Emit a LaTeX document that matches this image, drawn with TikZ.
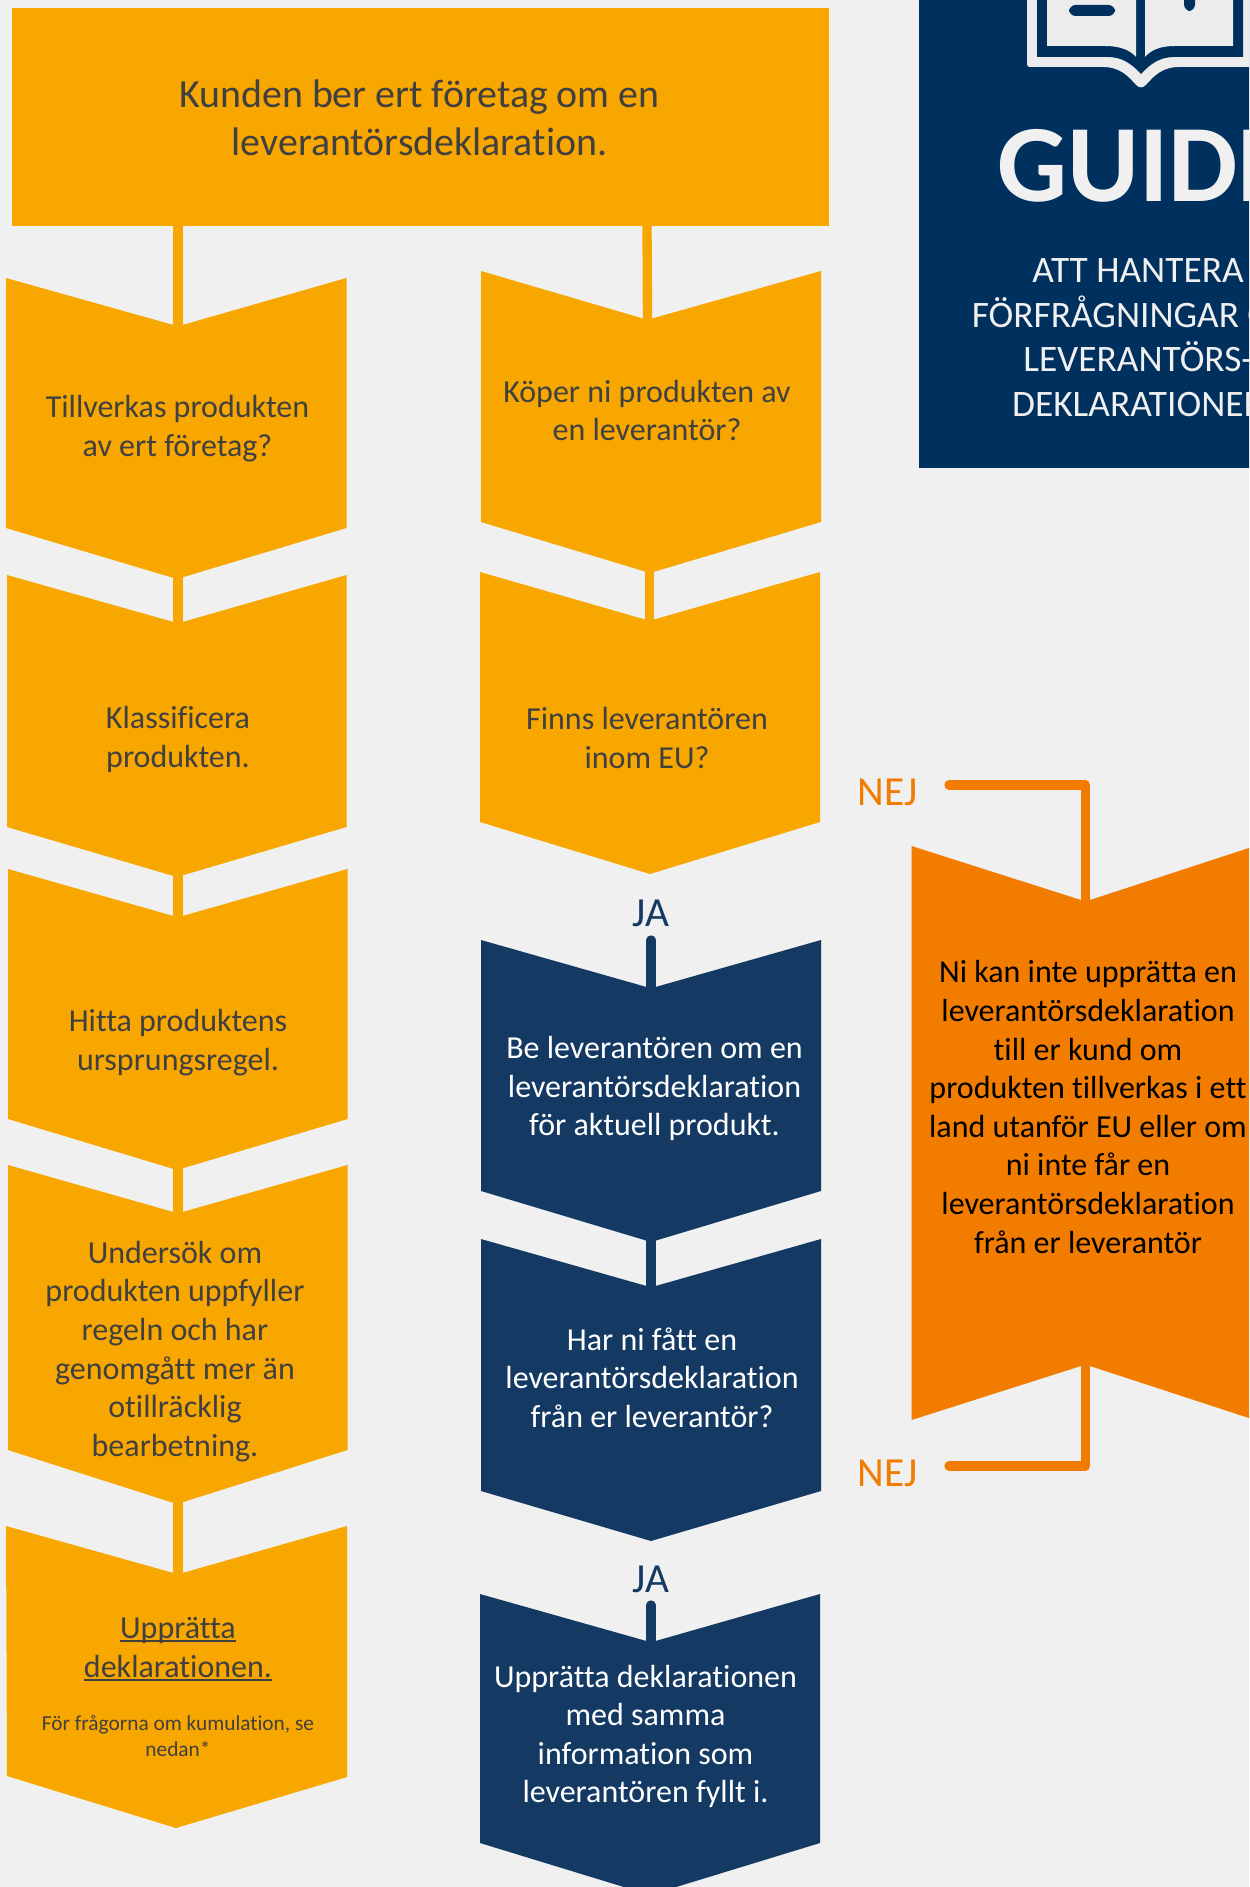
\documentclass[tikz,border=0pt]{standalone}
\usepackage{fontspec}
\setmainfont[Ligatures=NoCommon]{Carlito}
\definecolor{pagebg}{HTML}{F0F0F0}
\definecolor{amberc}{HTML}{F8A700}
\definecolor{navyc}{HTML}{143A64}
\definecolor{panelc}{HTML}{00305E}
\definecolor{orangec}{HTML}{F17C00}
\definecolor{iconc}{HTML}{ECECEC}
\definecolor{inkc}{HTML}{404040}
\newcommand\fs[1]{\fontsize{#1}{1.2\dimexpr#1pt\relax}\selectfont}
\newcommand\uln[1]{\setbox0\hbox{#1}\rlap{\rule[-2.6pt]{\wd0}{1.2pt}}\box0}
\tikzset{
  amberbox/.style={fill=amberc},
  navybox/.style={fill=navyc},
  orangebox/.style={fill=orangec},
  txt/.style={align=center,inner sep=0pt,font=\fontsize{24}{28.95}\selectfont},
  inktxt/.style={txt,text=inkc},
  whitetxt/.style={txt,text=white},
  blacktxt/.style={txt,text=black},
  amberline/.style={draw=amberc,line width=7pt},
  navyline/.style={draw=navyc,line width=7pt,line cap=round},
  orangeline/.style={draw=orangec,line width=7pt,line join=round,line cap=round},
}
\begin{document}
\begin{tikzpicture}[x=0.75pt,y=-0.75pt]
\useasboundingbox (0,0) rectangle (1249,1887);
\clip (0,0) rectangle (1249,1887);
\fill[pagebg] (0,0) rectangle (1249,1887);

% guide panel
\fill[panelc] (919,-5) rectangle (1260,468);
\fill[iconc,rounded corners=2pt] (1027,-10) -- (1027,67) -- (1100,67) .. controls (1120,67) and (1128,76) .. (1137,86) -- (1141,88) -- (1145,86) .. controls (1154,76) and (1162,67) .. (1182,67) -- (1260,67) -- (1260,-10) -- cycle;
\fill[panelc] (1037,-10) -- (1037,57) -- (1108,57) .. controls (1122,57) and (1132,64) .. (1141,74) .. controls (1150,64) and (1160,57) .. (1174,57) -- (1243,57) -- (1243,-10) -- cycle;
\fill[iconc] (1047,-10) -- (1047,46) -- (1105,46) .. controls (1120,46) and (1130,50) .. (1136,57) -- (1136,-10) -- cycle;
\fill[iconc] (1233,-10) -- (1233,46) -- (1175,46) .. controls (1160,46) and (1151,50) .. (1145,57) -- (1145,-10) -- cycle;
\fill[panelc,rounded corners=5pt] (1069,5) rectangle (1115,16);
\fill[panelc,rounded corners=5pt] (1184,-10) rectangle (1195,11);
\node[inner sep=0pt,text=pagebg,font=\fs{82.5}\bfseries,anchor=base west] (guide) at (997,202) {GUIDE};
\node[txt,text=pagebg,font=\fs{28},anchor=base] (g1) at (1138,282) {ATT HANTERA};
\node[txt,text=pagebg,font=\fs{28},anchor=base] (g2) at (1138,327) {FÖRFRÅGNINGAR OM};
\node[txt,text=pagebg,font=\fs{28},anchor=base] (g3) at (1138,371) {LEVERANTÖRS-};
\node[txt,text=pagebg,font=\fs{28},anchor=base] (g4) at (1138,416) {DEKLARATIONER};

% top box
\fill[amberbox] (12,8) rectangle (829,226);
\node[inktxt,font=\fontsize{29.9}{35.9}\selectfont] (top) at (419.5,117.5) {Kunden ber ert företag om en\\leverantörsdeklaration.};
\coordinate (top-l) at (178,225);
\coordinate (top-r) at (647,225);

% left column
\fill[amberbox] (6,278) -- (173.5,325) -- (182.5,325) -- (346.5,278) -- (346.5,528) -- (177,579) -- (6,528) -- cycle;
\coordinate (l1-n) at (178,325); \coordinate (l1-s) at (178,570);
\fill[amberbox] (7,575) -- (173.5,622) -- (182.5,622) -- (346.5,575) -- (346.5,827) -- (177,877) -- (7,827) -- cycle;
\coordinate (l2-n) at (178,622); \coordinate (l2-s) at (178,868);
\fill[amberbox] (8,869) -- (173.5,916) -- (182.5,916) -- (347.5,869) -- (347.5,1119) -- (177,1170) -- (8,1119) -- cycle;
\coordinate (l3-n) at (178,916); \coordinate (l3-s) at (178,1161);
\fill[amberbox] (8,1165) -- (173.5,1212) -- (182.5,1212) -- (347.5,1165) -- (347.5,1450) -- (177,1504) -- (8,1450) -- cycle;
\coordinate (l4-n) at (178,1212); \coordinate (l4-s) at (178,1495);
\fill[amberbox] (6,1526) -- (173.5,1573) -- (182.5,1573) -- (347,1526) -- (347,1777) -- (176,1828) -- (7,1776) -- cycle;
\coordinate (l5-n) at (178,1573);

\node[inktxt] (l1) at (177.5,428.5) {Tillverkas produkten\\av ert företag?};
\node[inktxt] (l2) at (178,739.5) {Klassificera\\produkten.};
\node[inktxt] (l3) at (178,1042.5) {Hitta produktens\\ursprungsregel.};
\node[inktxt] (l4) at (175,1351.5) {Undersök om\\produkten uppfyller\\regeln och har\\genomgått mer än\\otillräcklig\\bearbetning.};
\node[inktxt] (l5) at (178,1649) {\uln{Upprätta}\\\uln{deklarationen.}};
\node[inktxt,font=\fontsize{16}{19.2}\selectfont] (l5b) at (178,1736) {För frågorna om kumulation, se\\nedan*};

% middle column
\fill[amberbox] (481,271) -- (643,318.5) -- (652,318.5) -- (821,271) -- (821,522) -- (650,573) -- (481,522) -- cycle;
\coordinate (m1-n) at (647.5,319); \coordinate (m1-s) at (647.5,564);
\fill[amberbox] (480,572) -- (645,619.5) -- (654,619.5) -- (820,572) -- (820,822) -- (650,874) -- (480,822) -- cycle;
\coordinate (m2-n) at (649.5,620);
\fill[navybox] (481,940) -- (646.5,987) -- (655.5,987) -- (821,940) -- (821,1191) -- (651,1242) -- (481,1191) -- cycle;
\coordinate (m3-n) at (651,988); \coordinate (m3-s) at (651,1233); \coordinate (m3-f) at (651,940);
\fill[navybox] (481,1239) -- (646.5,1286) -- (655.5,1286) -- (821,1239) -- (821,1491) -- (651,1541) -- (481,1491) -- cycle;
\coordinate (m4-n) at (651,1286);
\fill[navybox] (480,1594) -- (646.5,1641) -- (655.5,1641) -- (820,1594) -- (820,1843) -- (650,1895) -- (480,1843) -- cycle;
\coordinate (m5-n) at (651,1641); \coordinate (m5-f) at (651,1605);

\node[inktxt] (m1) at (647,410.5) {Köper ni produkten av\\en leverantör?};
\node[inktxt] (m2) at (647,738) {Finns leverantören\\inom EU?};
\node[whitetxt] (m3) at (654.5,1088.5) {Be leverantören om en\\leverantörsdeklaration\\för aktuell produkt.};
\node[whitetxt] (m4) at (652,1377.5) {Har ni fått en\\leverantörsdeklaration\\från er leverantör?};
\node[whitetxt] (m5) at (645.5,1736.5) {Upprätta deklarationen\\med samma\\information som\\leverantören fyllt i.};
\node[txt,text=navyc,font=\fs{31}] (ja1) at (651,913) {JA};
\node[txt,text=navyc,font=\fs{31}] (ja2) at (651,1579) {JA};

% orange box
\fill[orangebox] (911.5,846) -- (1081,900) -- (1090,900) -- (1255,846) -- (1255,1420) -- (1090,1366) -- (1081,1366) -- (911.5,1420) -- cycle;
\coordinate (o-n) at (1085.5,900); \coordinate (o-s) at (1085.5,1366);
\coordinate (n1-f) at (949,785); \coordinate (n2-f) at (949,1466);
\node[blacktxt] (o) at (1088,1107) {Ni kan inte upprätta en\\leverantörsdeklaration\\till er kund om\\produkten tillverkas i ett\\land utanför EU eller om\\ni inte får en\\leverantörsdeklaration\\från er leverantör};
\node[txt,text=orangec,font=\fs{31}] (nej1) at (888,792) {NEJ};
\node[txt,text=orangec,font=\fs{31}] (nej2) at (888,1473) {NEJ};

% connectors
\draw[amberline] (top-l) -- (l1-n);
\draw[amberline] (top-r) -- (m1-n);
\draw[amberline] (l1-s) -- (l2-n);
\draw[amberline] (l2-s) -- (l3-n);
\draw[amberline] (l3-s) -- (l4-n);
\draw[amberline] (l4-s) -- (l5-n);
\draw[amberline] (m1-s -| m2-n) -- (m2-n);
\draw[navyline] (m3-f) -- (m3-n);
\draw[draw=navyc,line width=7pt] (m3-s) -- (m4-n);
\draw[navyline] (m5-f) -- (m5-n);
\draw[orangeline] (n1-f) -| (o-n);
\draw[orangeline] (n2-f) -| (o-s);
\end{tikzpicture}
\end{document}
